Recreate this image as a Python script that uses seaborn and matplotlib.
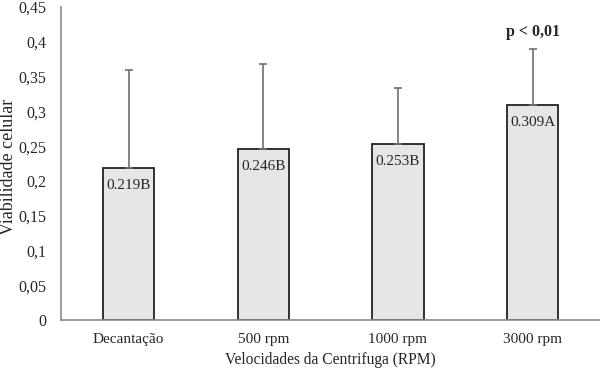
"""Bar chart of cell viability per centrifuge speed, with upper error bars."""

import matplotlib
matplotlib.use("Agg")
import matplotlib.pyplot as plt
import pandas as pd
import seaborn as sns

categories = ["Decantação", "500 rpm", "1000 rpm", "3000 rpm"]
means = [0.219, 0.246, 0.253, 0.309]
upper_err = [0.140, 0.122, 0.080, 0.081]
letters = ["B", "B", "B", "A"]
y_ticks = [0, 0.05, 0.1, 0.15, 0.2, 0.25, 0.3, 0.35, 0.4, 0.45]

sns.set_style("white")
plt.rcParams["font.family"] = ["Liberation Serif", "DejaVu Serif"]

df = pd.DataFrame({"cat": categories, "mean": means})

fig = plt.figure(figsize=(6, 3.68), dpi=100)
ax = fig.add_axes([0.102, 0.13, 0.898, 0.851])

sns.barplot(data=df, x="cat", y="mean", color="#e6e6e6", edgecolor="#222222",
            linewidth=1.3, width=0.38, errorbar=None, saturation=1, ax=ax)
ax.errorbar(range(len(categories)), means, yerr=[[0] * len(means), upper_err],
            fmt="none", ecolor="#707070", elinewidth=1.2, capsize=3, capthick=1.2)

for i, (m, l) in enumerate(zip(means, letters)):
    ax.annotate(f"{m:.3f}{l}", (i, m), xytext=(0, -8), textcoords="offset points",
                ha="center", va="top", fontsize=11)

ax.text(3, 0.414, "p < 0,01", ha="center", va="center", fontsize=11.5, fontweight="bold")

ax.set_xlim(-0.5, 3.5)
ax.set_ylim(0, 0.45)
ax.set_yticks(y_ticks)
ax.set_yticklabels([f"{t:g}".replace(".", ",") for t in y_ticks], fontsize=11.5)
ax.tick_params(axis="x", labelsize=11, length=0, pad=9)
ax.tick_params(axis="y", length=0, pad=11)

ax.set_xlabel("Velocidades da Centrifuga (RPM)", fontsize=11.2, va="center")
ax.xaxis.set_label_coords(0.5, -0.126)
ax.set_ylabel("Viabilidade celular", fontsize=13, va="center")
ax.yaxis.set_label_coords(-0.098, 0.49)

for s in ["top", "right"]:
    ax.spines[s].set_visible(False)
for s in ["left", "bottom"]:
    ax.spines[s].set_color("#8a8a8a")
    ax.spines[s].set_linewidth(1.2)

fig.savefig("out.png", dpi=100)
